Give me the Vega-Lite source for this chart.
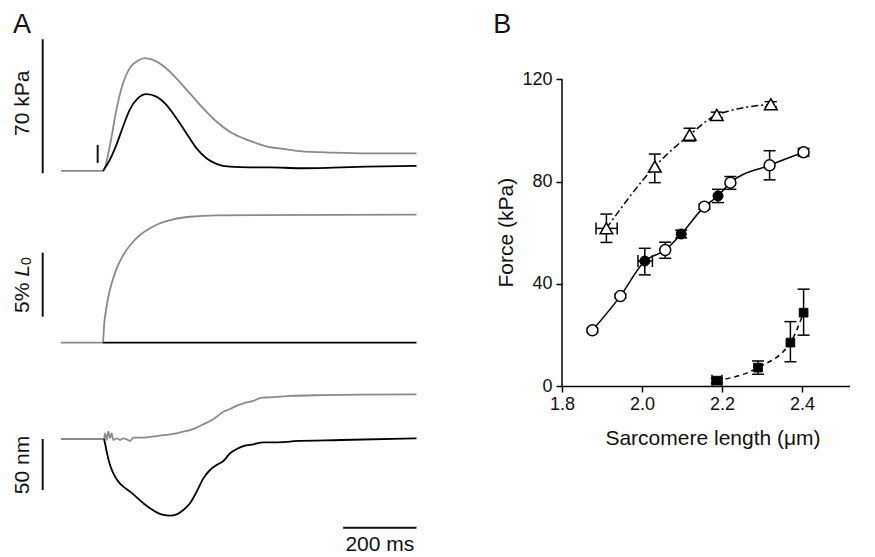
{
"$schema": "https://vega.github.io/schema/vega-lite/v6.json",
"padding": 0,
"background": "white",
"config": {"view": {"stroke": null}, "font": "Liberation Sans", "text": {"font": "Liberation Sans", "color": "#111"},
 "axis": {"grid": false, "domainColor": "#000", "domainWidth": 1.5, "tickColor": "#000", "tickWidth": 1.5, "tickSize": 6, "labelFontSize": 18, "labelColor": "#111", "labelFont": "Liberation Sans", "labelFlush": false},
 "axisX": {"labelPadding": 3}, "axisY": {"labelPadding": 4}},
"datasets": {
"traces": [
{"p":"F","c":"gray","t":-114.5,"v":0},{"p":"F","c":"gray","t":0,"v":0},{"p":"F","c":"gray","t":18.3,"v":12.7},{"p":"F","c":"gray","t":36.5,"v":31.9},{"p":"F","c":"gray","t":54.5,"v":45.8},{"p":"F","c":"gray","t":72.8,"v":53.7},{"p":"F","c":"gray","t":95.4,"v":57.6},{"p":"F","c":"gray","t":113.7,"v":58.9},{"p":"F","c":"gray","t":136.4,"v":58.0},{"p":"F","c":"gray","t":163.6,"v":54.9},{"p":"F","c":"gray","t":200.2,"v":48.4},{"p":"F","c":"gray","t":236.4,"v":40.6},{"p":"F","c":"gray","t":272.7,"v":32.8},{"p":"F","c":"gray","t":309.2,"v":25.8},{"p":"F","c":"gray","t":345.5,"v":20.5},{"p":"F","c":"gray","t":381.8,"v":17.1},{"p":"F","c":"gray","t":418.3,"v":14.5},{"p":"F","c":"gray","t":455,"v":12.4},{"p":"F","c":"gray","t":490.9,"v":11.5},{"p":"F","c":"gray","t":536.4,"v":10.4},{"p":"F","c":"gray","t":627.2,"v":9.6},{"p":"F","c":"gray","t":718.3,"v":9.2},{"p":"F","c":"gray","t":855,"v":9.2},
{"p":"F","c":"black","t":0,"v":0},{"p":"F","c":"black","t":18.3,"v":5.7},{"p":"F","c":"black","t":36.5,"v":13.6},{"p":"F","c":"black","t":54.5,"v":23.1},{"p":"F","c":"black","t":72.8,"v":31.9},{"p":"F","c":"black","t":95.4,"v":38.0},{"p":"F","c":"black","t":118.3,"v":40.1},{"p":"F","c":"black","t":145.5,"v":38.8},{"p":"F","c":"black","t":172.8,"v":34.5},{"p":"F","c":"black","t":200.2,"v":27.5},{"p":"F","c":"black","t":227.4,"v":19.7},{"p":"F","c":"black","t":254.7,"v":11.9},{"p":"F","c":"black","t":282,"v":6.6},{"p":"F","c":"black","t":309.2,"v":3.7},{"p":"F","c":"black","t":345.5,"v":2.2},{"p":"F","c":"black","t":400,"v":1.9},{"p":"F","c":"black","t":455,"v":1.9},{"p":"F","c":"black","t":536.4,"v":1.4},{"p":"F","c":"black","t":627.2,"v":1.7},{"p":"F","c":"black","t":718.3,"v":2.2},{"p":"F","c":"black","t":855,"v":2.6},
{"p":"L","c":"gray","t":-114.5,"v":0},{"p":"L","c":"gray","t":0,"v":0},{"p":"L","c":"gray","t":2.7,"v":1.25},{"p":"L","c":"gray","t":8.2,"v":2.55},{"p":"L","c":"gray","t":14.5,"v":3.59},{"p":"L","c":"gray","t":23.7,"v":4.64},{"p":"L","c":"gray","t":37.4,"v":5.81},{"p":"L","c":"gray","t":55.4,"v":6.85},{"p":"L","c":"gray","t":78.3,"v":7.77},{"p":"L","c":"gray","t":100.9,"v":8.41},{"p":"L","c":"gray","t":128.2,"v":8.94},{"p":"L","c":"gray","t":155.4,"v":9.33},{"p":"L","c":"gray","t":191.7,"v":9.64},{"p":"L","c":"gray","t":237.3,"v":9.84},{"p":"L","c":"gray","t":310,"v":9.95},{"p":"L","c":"gray","t":855,"v":10.0},
{"p":"L","c":"black","t":0,"v":0},{"p":"L","c":"black","t":855,"v":0},
{"p":"S","c":"gray","t":-114.5,"v":0},{"p":"S","c":"gray","t":2.7,"v":0},{"p":"S","c":"gray","t":5.5,"v":5.6},{"p":"S","c":"gray","t":10,"v":-1},{"p":"S","c":"gray","t":14.5,"v":7.2},{"p":"S","c":"gray","t":19.1,"v":0.7},{"p":"S","c":"gray","t":23.6,"v":5.6},{"p":"S","c":"gray","t":28.2,"v":-1},{"p":"S","c":"gray","t":37.3,"v":0.7},{"p":"S","c":"gray","t":46.4,"v":-1},{"p":"S","c":"gray","t":55.4,"v":0.7},{"p":"S","c":"gray","t":64.5,"v":-0.3},{"p":"S","c":"gray","t":73.6,"v":-2},{"p":"S","c":"gray","t":82.7,"v":1.3},{"p":"S","c":"gray","t":100.9,"v":1.3},{"p":"S","c":"gray","t":128.2,"v":2},{"p":"S","c":"gray","t":155.4,"v":3.3},{"p":"S","c":"gray","t":182.7,"v":4.6},{"p":"S","c":"gray","t":200.9,"v":5.6},{"p":"S","c":"gray","t":219.1,"v":7.2},{"p":"S","c":"gray","t":237.3,"v":8.8},{"p":"S","c":"gray","t":255.5,"v":11.1},{"p":"S","c":"gray","t":273.7,"v":14.4},{"p":"S","c":"gray","t":291.9,"v":17.6},{"p":"S","c":"gray","t":310.1,"v":21.9},{"p":"S","c":"gray","t":328.3,"v":26.8},{"p":"S","c":"gray","t":346.5,"v":29.4},{"p":"S","c":"gray","t":364.7,"v":32.7},{"p":"S","c":"gray","t":382.9,"v":35},{"p":"S","c":"gray","t":410.2,"v":37.3},{"p":"S","c":"gray","t":432.9,"v":40.5},{"p":"S","c":"gray","t":455.6,"v":40.8},{"p":"S","c":"gray","t":482.9,"v":41.5},{"p":"S","c":"gray","t":510.2,"v":42.2},{"p":"S","c":"gray","t":600,"v":43},{"p":"S","c":"gray","t":700,"v":43.5},{"p":"S","c":"gray","t":855,"v":43.8},
{"p":"S","c":"black","t":2.7,"v":0},{"p":"S","c":"black","t":5.5,"v":-4.2},{"p":"S","c":"black","t":10,"v":-12.4},{"p":"S","c":"black","t":19.1,"v":-25.5},{"p":"S","c":"black","t":28.2,"v":-33.7},{"p":"S","c":"black","t":41.8,"v":-41.8},{"p":"S","c":"black","t":55.4,"v":-46.7},{"p":"S","c":"black","t":73.6,"v":-51.6},{"p":"S","c":"black","t":91.8,"v":-57.2},{"p":"S","c":"black","t":110,"v":-63},{"p":"S","c":"black","t":128.2,"v":-67.9},{"p":"S","c":"black","t":146.4,"v":-71.9},{"p":"S","c":"black","t":164.6,"v":-74.5},{"p":"S","c":"black","t":182.7,"v":-75.2},{"p":"S","c":"black","t":200.9,"v":-73.9},{"p":"S","c":"black","t":219.1,"v":-69.6},{"p":"S","c":"black","t":237.3,"v":-63},{"p":"S","c":"black","t":255.5,"v":-51.6},{"p":"S","c":"black","t":273.7,"v":-38.6},{"p":"S","c":"black","t":291.9,"v":-30.4},{"p":"S","c":"black","t":310.1,"v":-25.5},{"p":"S","c":"black","t":328.3,"v":-21.6},{"p":"S","c":"black","t":346.5,"v":-14},{"p":"S","c":"black","t":364.7,"v":-9.8},{"p":"S","c":"black","t":382.9,"v":-6.9},{"p":"S","c":"black","t":410.2,"v":-5.2},{"p":"S","c":"black","t":437.5,"v":-3.3},{"p":"S","c":"black","t":473.9,"v":-3.3},{"p":"S","c":"black","t":510.2,"v":-2.6},{"p":"S","c":"black","t":520,"v":-2},{"p":"S","c":"black","t":650,"v":-1},{"p":"S","c":"black","t":855,"v":0.7}
],
"pts": [
{"g":"T","x":1.911,"y":61.7,"ylo":56.2,"yhi":67.3,"xlo":1.885,"xhi":1.938},
{"g":"T","x":2.032,"y":85.9,"ylo":79.6,"yhi":90.8},
{"g":"T","x":2.119,"y":98.3,"ylo":95.9,"yhi":100.9},
{"g":"T","x":2.187,"y":106.1,"ylo":105.0,"yhi":107.2},
{"g":"T","x":2.322,"y":110.3,"ylo":109.3,"yhi":111.3},
{"g":"O","x":1.876,"y":21.8,"ylo":21.0,"yhi":22.6},
{"g":"O","x":1.946,"y":35.2,"ylo":34.4,"yhi":36.0},
{"g":"O","x":2.058,"y":53.2,"ylo":50.0,"yhi":56.3},
{"g":"O","x":2.156,"y":70.2,"ylo":69.2,"yhi":71.2},
{"g":"O","x":2.221,"y":79.6,"ylo":77.0,"yhi":82.0},
{"g":"O","x":2.319,"y":86.4,"ylo":80.7,"yhi":92.1},
{"g":"O","x":2.404,"y":91.5,"ylo":90.0,"yhi":93.0},
{"g":"F","x":2.007,"y":48.9,"ylo":43.5,"yhi":53.9,"xlo":1.99,"xhi":2.026},
{"g":"F","x":2.098,"y":59.5,"ylo":58.0,"yhi":61.0},
{"g":"F","x":2.19,"y":74.4,"ylo":71.8,"yhi":77.0},
{"g":"S","x":2.187,"y":2.1,"ylo":1.2,"yhi":3.0,"xlo":2.175,"xhi":2.2},
{"g":"S","x":2.29,"y":7.2,"ylo":4.6,"yhi":9.8},
{"g":"S","x":2.371,"y":17.0,"ylo":9.5,"yhi":25.2},
{"g":"S","x":2.404,"y":28.7,"ylo":19.9,"yhi":37.9}
]
},
"bounds": "flush",
"spacing": 22,
"hconcat": [
{
"width": 540, "height": 557,
"resolve": {"scale": {"y": "independent"}},
"layer": [
{"layer": [
{"data": {"name": "traces"}, "transform": [{"filter": "datum.p === 'F'"}],
 "mark": {"type": "line", "strokeWidth": 1.8, "interpolate": "monotone"},
 "encoding": {"x": {"field": "t", "type": "quantitative", "scale": {"domain": [-280.9, 1191.8], "nice": false, "zero": false}, "axis": null},
  "y": {"field": "v", "type": "quantitative", "scale": {"domain": [-201.7, 89.3], "nice": false, "zero": false}, "axis": null},
  "color": {"field": "c", "type": "nominal", "scale": {"domain": ["gray", "black"], "range": ["#8a8a8a", "#000000"]}, "legend": null}}},
{"data": {"values": [{}]}, "mark": {"type": "rule", "strokeWidth": 2, "color": "#111"},
 "encoding": {"x": {"datum": -164.5, "type": "quantitative", "scale": {"domain": [-280.9, 1191.8], "nice": false, "zero": false}, "axis": null},
  "y": {"datum": -1.2, "type": "quantitative", "scale": {"domain": [-201.7, 89.3], "nice": false, "zero": false}, "axis": null},
  "y2": {"datum": 68.8}}},
{"data": {"values": [{}]}, "mark": {"type": "rule", "strokeWidth": 2, "color": "#111"},
 "encoding": {"x": {"datum": -14.5, "type": "quantitative", "scale": {"domain": [-280.9, 1191.8], "nice": false, "zero": false}, "axis": null},
  "y": {"datum": 4.2, "type": "quantitative", "scale": {"domain": [-201.7, 89.3], "nice": false, "zero": false}, "axis": null},
  "y2": {"datum": 13.6}}},
{"data": {"values": [{}]}, "mark": {"type": "text", "text": "70 kPa", "angle": 270, "align": "center", "baseline": "middle", "fontSize": 21},
 "encoding": {"x": {"datum": -217.4, "type": "quantitative", "scale": {"domain": [-280.9, 1191.8], "nice": false, "zero": false}, "axis": null},
  "y": {"datum": 35.3, "type": "quantitative", "scale": {"domain": [-201.7, 89.3], "nice": false, "zero": false}, "axis": null}}},
{"data": {"values": [{}]}, "mark": {"type": "text", "text": "A", "align": "left", "baseline": "alphabetic", "fontSize": 27},
 "encoding": {"x": {"datum": -245.5, "type": "quantitative", "scale": {"domain": [-280.9, 1191.8], "nice": false, "zero": false}, "axis": null},
  "y": {"datum": 71.9, "type": "quantitative", "scale": {"domain": [-201.7, 89.3], "nice": false, "zero": false}, "axis": null}}}
]},
{"layer": [
{"data": {"name": "traces"}, "transform": [{"filter": "datum.p === 'L'"}],
 "mark": {"type": "line", "strokeWidth": 1.8, "interpolate": "monotone"},
 "encoding": {"x": {"field": "t", "type": "quantitative", "scale": {"domain": [-280.9, 1191.8], "nice": false, "zero": false}, "axis": null},
  "y": {"field": "v", "type": "quantitative", "scale": {"domain": [-16.74, 26.77], "nice": false, "zero": false}, "axis": null},
  "color": {"field": "c", "type": "nominal", "scale": {"domain": ["gray", "black"], "range": ["#8a8a8a", "#000000"]}, "legend": null}}},
{"data": {"values": [{}]}, "mark": {"type": "rule", "strokeWidth": 2, "color": "#111"},
 "encoding": {"x": {"datum": -164.5, "type": "quantitative", "scale": {"domain": [-280.9, 1191.8], "nice": false, "zero": false}, "axis": null},
  "y": {"datum": 2.03, "type": "quantitative", "scale": {"domain": [-16.74, 26.77], "nice": false, "zero": false}, "axis": null},
  "y2": {"datum": 7.03}}},
{"data": {"values": [{}]}, "mark": {"type": "text", "text": "5%", "angle": 270, "align": "left", "baseline": "middle", "fontSize": 21},
 "encoding": {"x": {"datum": -219.5, "type": "quantitative", "scale": {"domain": [-280.9, 1191.8], "nice": false, "zero": false}, "axis": null},
  "y": {"datum": 2.32, "type": "quantitative", "scale": {"domain": [-16.74, 26.77], "nice": false, "zero": false}, "axis": null}}},
{"data": {"values": [{}]}, "mark": {"type": "text", "text": "L", "angle": 270, "align": "left", "baseline": "middle", "fontSize": 21, "fontStyle": "italic"},
 "encoding": {"x": {"datum": -219.5, "type": "quantitative", "scale": {"domain": [-280.9, 1191.8], "nice": false, "zero": false}, "axis": null},
  "y": {"datum": 5.15, "type": "quantitative", "scale": {"domain": [-16.74, 26.77], "nice": false, "zero": false}, "axis": null}}},
{"data": {"values": [{}]}, "mark": {"type": "text", "text": "0", "angle": 270, "align": "left", "baseline": "middle", "fontSize": 14},
 "encoding": {"x": {"datum": -208.6, "type": "quantitative", "scale": {"domain": [-280.9, 1191.8], "nice": false, "zero": false}, "axis": null},
  "y": {"datum": 6.06, "type": "quantitative", "scale": {"domain": [-16.74, 26.77], "nice": false, "zero": false}, "axis": null}}}
]},
{"layer": [
{"data": {"name": "traces"}, "transform": [{"filter": "datum.p === 'S'"}],
 "mark": {"type": "line", "strokeWidth": 1.8, "interpolate": "monotone"},
 "encoding": {"x": {"field": "t", "type": "quantitative", "scale": {"domain": [-280.9, 1191.8], "nice": false, "zero": false}, "axis": null},
  "y": {"field": "v", "type": "quantitative", "scale": {"domain": [-115.7, 430.4], "nice": false, "zero": false}, "axis": null},
  "color": {"field": "c", "type": "nominal", "scale": {"domain": ["gray", "black"], "range": ["#8a8a8a", "#000000"]}, "legend": null}}},
{"data": {"values": [{}]}, "mark": {"type": "rule", "strokeWidth": 2, "color": "#111"},
 "encoding": {"x": {"datum": -164.5, "type": "quantitative", "scale": {"domain": [-280.9, 1191.8], "nice": false, "zero": false}, "axis": null},
  "y": {"datum": 0, "type": "quantitative", "scale": {"domain": [-115.7, 430.4], "nice": false, "zero": false}, "axis": null},
  "y2": {"datum": -50}}},
{"data": {"values": [{}]}, "mark": {"type": "rule", "strokeWidth": 2, "color": "#111"},
 "encoding": {"x": {"datum": 655, "type": "quantitative", "scale": {"domain": [-280.9, 1191.8], "nice": false, "zero": false}, "axis": null},
  "x2": {"datum": 855},
  "y": {"datum": -87, "type": "quantitative", "scale": {"domain": [-115.7, 430.4], "nice": false, "zero": false}, "axis": null}}},
{"data": {"values": [{}]}, "mark": {"type": "text", "text": "50 nm", "angle": 270, "align": "center", "baseline": "middle", "fontSize": 21},
 "encoding": {"x": {"datum": -219.5, "type": "quantitative", "scale": {"domain": [-280.9, 1191.8], "nice": false, "zero": false}, "axis": null},
  "y": {"datum": -25.5, "type": "quantitative", "scale": {"domain": [-115.7, 430.4], "nice": false, "zero": false}, "axis": null}}},
{"data": {"values": [{}]}, "mark": {"type": "text", "text": "200 ms", "align": "center", "baseline": "middle", "fontSize": 21},
 "encoding": {"x": {"datum": 755, "type": "quantitative", "scale": {"domain": [-280.9, 1191.8], "nice": false, "zero": false}, "axis": null},
  "y": {"datum": -104, "type": "quantitative", "scale": {"domain": [-115.7, 430.4], "nice": false, "zero": false}, "axis": null}}}
]}
]
},
{
"width": 288, "height": 386,
"data": {"name": "pts"},
"layer": [
{"transform": [{"filter": "datum.g === 'O' || datum.g === 'F'"}],
 "mark": {"type": "line", "strokeWidth": 1.5, "color": "#000", "interpolate": "monotone"},
 "encoding": {"x": {"field": "x", "type": "quantitative", "scale": {"domain": [1.8, 2.52], "nice": false, "zero": false}, "axis": {"values": [1.8, 2.0, 2.2, 2.4], "format": ".1f", "title": null}},
  "y": {"field": "y", "type": "quantitative", "scale": {"domain": [0, 151.1], "nice": false, "zero": false}, "axis": {"values": [0, 40, 80, 120], "format": "d", "title": null, "domain": false}},
  "order": {"field": "x"}}},
{"transform": [{"filter": "datum.g === 'T'"}],
 "mark": {"type": "line", "strokeWidth": 1.5, "color": "#000", "interpolate": "monotone", "strokeDash": [7, 3, 2, 3]},
 "encoding": {"x": {"field": "x", "type": "quantitative", "scale": {"domain": [1.8, 2.52], "nice": false, "zero": false}, "axis": {"values": [1.8, 2.0, 2.2, 2.4], "format": ".1f", "title": null}},
  "y": {"field": "y", "type": "quantitative", "scale": {"domain": [0, 151.1], "nice": false, "zero": false}, "axis": {"values": [0, 40, 80, 120], "format": "d", "title": null, "domain": false}}}},
{"transform": [{"filter": "datum.g === 'S'"}],
 "mark": {"type": "line", "strokeWidth": 1.5, "color": "#000", "interpolate": "monotone", "strokeDash": [5, 4]},
 "encoding": {"x": {"field": "x", "type": "quantitative", "scale": {"domain": [1.8, 2.52], "nice": false, "zero": false}, "axis": {"values": [1.8, 2.0, 2.2, 2.4], "format": ".1f", "title": null}},
  "y": {"field": "y", "type": "quantitative", "scale": {"domain": [0, 151.1], "nice": false, "zero": false}, "axis": {"values": [0, 40, 80, 120], "format": "d", "title": null, "domain": false}}}},
{"mark": {"type": "rule", "strokeWidth": 1.5, "color": "#000"},
 "encoding": {"x": {"field": "x", "type": "quantitative", "scale": {"domain": [1.8, 2.52], "nice": false, "zero": false}, "axis": {"values": [1.8, 2.0, 2.2, 2.4], "format": ".1f", "title": null}},
  "y": {"field": "ylo", "type": "quantitative", "scale": {"domain": [0, 151.1], "nice": false, "zero": false}, "axis": {"values": [0, 40, 80, 120], "format": "d", "title": null, "domain": false}},
  "y2": {"field": "yhi"}}},
{"mark": {"type": "tick", "orient": "horizontal", "size": 12, "thickness": 1.5, "color": "#000", "opacity": 1},
 "encoding": {"x": {"field": "x", "type": "quantitative", "scale": {"domain": [1.8, 2.52], "nice": false, "zero": false}, "axis": {"values": [1.8, 2.0, 2.2, 2.4], "format": ".1f", "title": null}},
  "y": {"field": "ylo", "type": "quantitative", "scale": {"domain": [0, 151.1], "nice": false, "zero": false}, "axis": {"values": [0, 40, 80, 120], "format": "d", "title": null, "domain": false}}}},
{"mark": {"type": "tick", "orient": "horizontal", "size": 12, "thickness": 1.5, "color": "#000", "opacity": 1},
 "encoding": {"x": {"field": "x", "type": "quantitative", "scale": {"domain": [1.8, 2.52], "nice": false, "zero": false}, "axis": {"values": [1.8, 2.0, 2.2, 2.4], "format": ".1f", "title": null}},
  "y": {"field": "yhi", "type": "quantitative", "scale": {"domain": [0, 151.1], "nice": false, "zero": false}, "axis": {"values": [0, 40, 80, 120], "format": "d", "title": null, "domain": false}}}},
{"transform": [{"filter": "isValid(datum.xlo)"}],
 "mark": {"type": "rule", "strokeWidth": 1.5, "color": "#000"},
 "encoding": {"x": {"field": "xlo", "type": "quantitative", "scale": {"domain": [1.8, 2.52], "nice": false, "zero": false}, "axis": {"values": [1.8, 2.0, 2.2, 2.4], "format": ".1f", "title": null}},
  "x2": {"field": "xhi"},
  "y": {"field": "y", "type": "quantitative", "scale": {"domain": [0, 151.1], "nice": false, "zero": false}, "axis": {"values": [0, 40, 80, 120], "format": "d", "title": null, "domain": false}}}},
{"transform": [{"filter": "isValid(datum.xlo)"}],
 "mark": {"type": "tick", "orient": "vertical", "size": 12, "thickness": 1.5, "color": "#000", "opacity": 1},
 "encoding": {"x": {"field": "xlo", "type": "quantitative", "scale": {"domain": [1.8, 2.52], "nice": false, "zero": false}, "axis": {"values": [1.8, 2.0, 2.2, 2.4], "format": ".1f", "title": null}},
  "y": {"field": "y", "type": "quantitative", "scale": {"domain": [0, 151.1], "nice": false, "zero": false}, "axis": {"values": [0, 40, 80, 120], "format": "d", "title": null, "domain": false}}}},
{"transform": [{"filter": "isValid(datum.xlo)"}],
 "mark": {"type": "tick", "orient": "vertical", "size": 12, "thickness": 1.5, "color": "#000", "opacity": 1},
 "encoding": {"x": {"field": "xhi", "type": "quantitative", "scale": {"domain": [1.8, 2.52], "nice": false, "zero": false}, "axis": {"values": [1.8, 2.0, 2.2, 2.4], "format": ".1f", "title": null}},
  "y": {"field": "y", "type": "quantitative", "scale": {"domain": [0, 151.1], "nice": false, "zero": false}, "axis": {"values": [0, 40, 80, 120], "format": "d", "title": null, "domain": false}}}},
{"transform": [{"filter": "datum.g === 'T'"}],
 "mark": {"type": "point", "shape": "triangle-up", "size": 160, "filled": true, "fill": "#fff", "stroke": "#000", "strokeWidth": 1.5, "opacity": 1},
 "encoding": {"x": {"field": "x", "type": "quantitative", "scale": {"domain": [1.8, 2.52], "nice": false, "zero": false}, "axis": {"values": [1.8, 2.0, 2.2, 2.4], "format": ".1f", "title": null}},
  "y": {"field": "y", "type": "quantitative", "scale": {"domain": [0, 151.1], "nice": false, "zero": false}, "axis": {"values": [0, 40, 80, 120], "format": "d", "title": null, "domain": false}}}},
{"transform": [{"filter": "datum.g === 'O'"}],
 "mark": {"type": "point", "shape": "circle", "size": 120, "filled": true, "fill": "#fff", "stroke": "#000", "strokeWidth": 1.5, "opacity": 1},
 "encoding": {"x": {"field": "x", "type": "quantitative", "scale": {"domain": [1.8, 2.52], "nice": false, "zero": false}, "axis": {"values": [1.8, 2.0, 2.2, 2.4], "format": ".1f", "title": null}},
  "y": {"field": "y", "type": "quantitative", "scale": {"domain": [0, 151.1], "nice": false, "zero": false}, "axis": {"values": [0, 40, 80, 120], "format": "d", "title": null, "domain": false}}}},
{"transform": [{"filter": "datum.g === 'F'"}],
 "mark": {"type": "point", "shape": "circle", "size": 100, "filled": true, "fill": "#000", "stroke": "#000", "strokeWidth": 1, "opacity": 1},
 "encoding": {"x": {"field": "x", "type": "quantitative", "scale": {"domain": [1.8, 2.52], "nice": false, "zero": false}, "axis": {"values": [1.8, 2.0, 2.2, 2.4], "format": ".1f", "title": null}},
  "y": {"field": "y", "type": "quantitative", "scale": {"domain": [0, 151.1], "nice": false, "zero": false}, "axis": {"values": [0, 40, 80, 120], "format": "d", "title": null, "domain": false}}}},
{"transform": [{"filter": "datum.g === 'S'"}],
 "mark": {"type": "point", "shape": "square", "size": 75, "filled": true, "fill": "#000", "stroke": "#000", "strokeWidth": 1, "opacity": 1},
 "encoding": {"x": {"field": "x", "type": "quantitative", "scale": {"domain": [1.8, 2.52], "nice": false, "zero": false}, "axis": {"values": [1.8, 2.0, 2.2, 2.4], "format": ".1f", "title": null}},
  "y": {"field": "y", "type": "quantitative", "scale": {"domain": [0, 151.1], "nice": false, "zero": false}, "axis": {"values": [0, 40, 80, 120], "format": "d", "title": null, "domain": false}}}},
{"data": {"values": [{}]}, "mark": {"type": "rule", "strokeWidth": 1.5, "color": "#000"},
 "encoding": {"x": {"datum": 1.8, "type": "quantitative", "scale": {"domain": [1.8, 2.52], "nice": false, "zero": false}, "axis": {"values": [1.8, 2.0, 2.2, 2.4], "format": ".1f", "title": null}},
  "y": {"datum": 0, "type": "quantitative", "scale": {"domain": [0, 151.1], "nice": false, "zero": false}, "axis": {"values": [0, 40, 80, 120], "format": "d", "title": null, "domain": false}},
  "y2": {"datum": 120}}},
{"data": {"values": [{}]}, "mark": {"type": "text", "text": "B", "align": "left", "baseline": "alphabetic", "fontSize": 27},
 "encoding": {"x": {"datum": 1.628, "type": "quantitative", "scale": {"domain": [1.8, 2.52], "nice": false, "zero": false}, "axis": {"values": [1.8, 2.0, 2.2, 2.4], "format": ".1f", "title": null}},
  "y": {"datum": 138.2, "type": "quantitative", "scale": {"domain": [0, 151.1], "nice": false, "zero": false}, "axis": {"values": [0, 40, 80, 120], "format": "d", "title": null, "domain": false}}}},
{"data": {"values": [{}]}, "mark": {"type": "text", "text": "Force (kPa)", "angle": 270, "align": "center", "baseline": "middle", "fontSize": 21},
 "encoding": {"x": {"datum": 1.6625, "type": "quantitative", "scale": {"domain": [1.8, 2.52], "nice": false, "zero": false}, "axis": {"values": [1.8, 2.0, 2.2, 2.4], "format": ".1f", "title": null}},
  "y": {"datum": 60, "type": "quantitative", "scale": {"domain": [0, 151.1], "nice": false, "zero": false}, "axis": {"values": [0, 40, 80, 120], "format": "d", "title": null, "domain": false}}}},
{"data": {"values": [{}]}, "mark": {"type": "text", "text": "Sarcomere length (μm)", "align": "center", "baseline": "middle", "fontSize": 21},
 "encoding": {"x": {"datum": 2.1775, "type": "quantitative", "scale": {"domain": [1.8, 2.52], "nice": false, "zero": false}, "axis": {"values": [1.8, 2.0, 2.2, 2.4], "format": ".1f", "title": null}},
  "y": {"datum": -20.75, "type": "quantitative", "scale": {"domain": [0, 151.1], "nice": false, "zero": false}, "axis": {"values": [0, 40, 80, 120], "format": "d", "title": null, "domain": false}}}}
]
}
]
}
